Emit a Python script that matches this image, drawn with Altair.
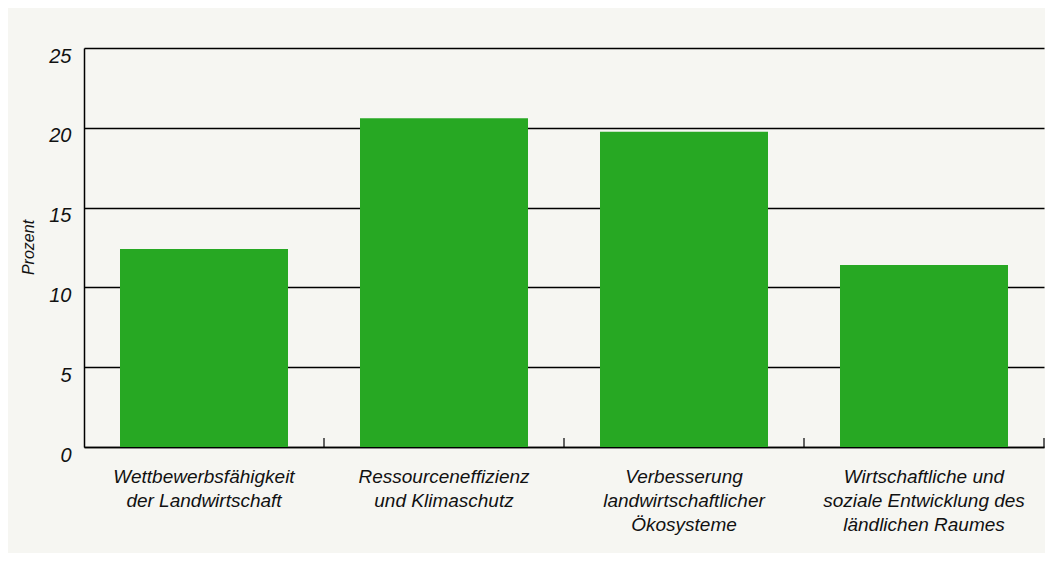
import altair as alt
import pandas as pd

categories = [
    "Wettbewerbsfähigkeit|der Landwirtschaft",
    "Ressourceneffizienz|und Klimaschutz",
    "Verbesserung|landwirtschaftlicher|Ökosysteme",
    "Wirtschaftliche und|soziale Entwicklung des|ländlichen Raumes",
]
values = [12.4, 20.6, 19.75, 11.4]
y_ticks = [0, 5, 10, 15, 20, 25]

df = pd.DataFrame({"cat": categories, "val": values})

FONT = "Liberation Sans"

bars = alt.Chart(df).mark_bar(color="#27a823").encode(
    x=alt.X(
        "cat:N",
        sort=categories,
        scale=alt.Scale(paddingInner=0.3, paddingOuter=0.15),
        axis=alt.Axis(
            title=None,
            labelAngle=0,
            labelAlign="center",
            labelLimit=400,
            labelExpr="split(datum.label, '|')",
            labelFont=FONT,
            labelFontStyle="italic",
            labelFontSize=19,
            labelColor="#111111",
            labelLineHeight=24,
            labelPadding=20,
            labelBaseline="top",
            ticks=False,
            domainColor="#000000",
            domainWidth=1.5,
            grid=False,
        ),
    ),
    y=alt.Y(
        "val:Q",
        scale=alt.Scale(domain=[0, 25], nice=False),
        axis=alt.Axis(
            title="Prozent",
            values=y_ticks,
            ticks=False,
            labelFont=FONT,
            labelFontStyle="italic",
            labelFontSize=20,
            labelColor="#111111",
            labelPadding=13,
            labelBaseline="top",
            labelOffset=-2,
            grid=True,
            gridColor="#000000",
            gridWidth=1.3,
            gridOpacity=1,
            domainColor="#000000",
            domainWidth=1.5,
            titleFont=FONT,
            titleFontStyle="italic",
            titleFontWeight="normal",
            titleFontSize=16,
            titleColor="#111111",
            titleAngle=270,
            titleX=-56,
            titleY=199,
            titleAlign="center",
            titleBaseline="middle",
        ),
    ),
)

ticks = alt.Chart(df).mark_rule(color="#000000", strokeWidth=1.2).encode(
    x=alt.X(
        "cat:N",
        sort=categories,
        scale=alt.Scale(paddingInner=0, paddingOuter=0),
        bandPosition=1,
        axis=None,
    ),
    y=alt.value(390),
    y2=alt.value(399),
)

chart = (
    alt.layer(bars, ticks)
    .resolve_scale(x="independent")
    .properties(
        width=960,
        height=399,
        background="#f6f6f2",
        padding={"left": 76, "top": 40, "right": 1, "bottom": 106},
        autosize=alt.AutoSizeParams(type="none"),
    )
    .configure_view(stroke=None)
)

chart.save("out.html", embed_options={"renderer": "svg", "actions": False})
